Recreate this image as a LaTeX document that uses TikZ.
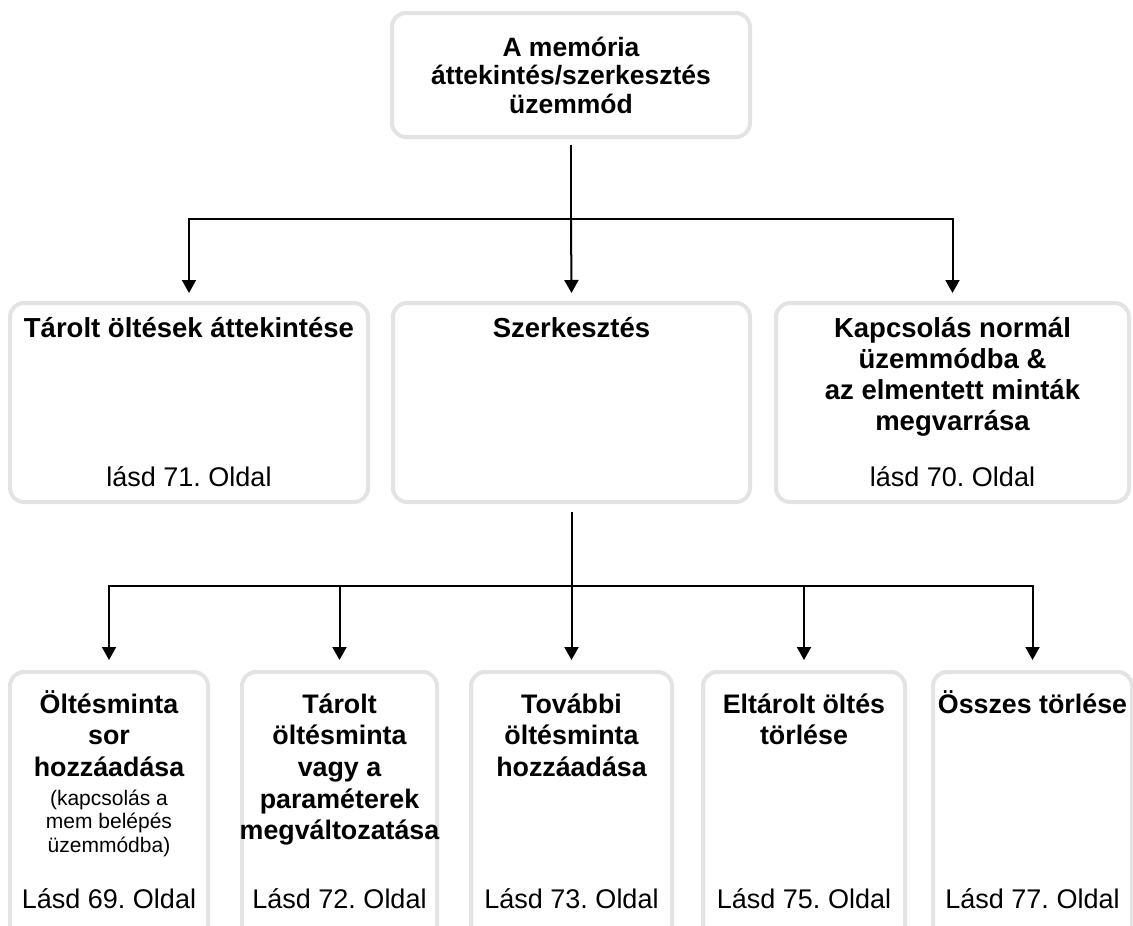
\documentclass[tikz,border=0pt]{standalone}
\usepackage{fontspec}
\setmainfont{Liberation Sans}
\frenchspacing
\definecolor{frameGray}{RGB}{227, 227, 227}
\usetikzlibrary{arrows.meta, positioning}
\newcommand{\stacked}[1]{\begin{tabular}[t]{@{}c@{}}#1\end{tabular}}

\begin{document}
\begin{tikzpicture}[x=1pt, y=-1pt,
    box/.style={draw=frameGray, line width=4pt, rounded corners=14pt,
                minimum height=199pt, inner sep=0pt},
    smallbox/.style={box, minimum width=198pt, minimum height=270pt},
    title/.style={inner sep=0pt, anchor=base, font=\fontsize{27.5}{31}\selectfont\bfseries},
    subtitle/.style={inner sep=0pt, anchor=base, font=\fontsize{26.8}{31.7}\selectfont\bfseries},
    page/.style={inner sep=0pt, anchor=base, font=\fontsize{27}{31}\selectfont},
    note/.style={inner sep=0pt, anchor=base, font=\fontsize{21}{23.5}\selectfont},
    link/.style={line width=2pt},
    arr/.style={-{Triangle[width=14pt, length=13pt]}, line width=2pt}
  ]
    \useasboundingbox (0,0) rectangle (1133,926);

    % Top
    \node[box, minimum width=358pt, minimum height=124pt, align=center,
          font=\fontsize{26.5}{28.5}\selectfont\bfseries] (memo) at (571,75)
          {A memória\\áttekintés/szerkesztés\\üzemmód};

    % Middle row
    \node[box, minimum width=358pt] (tarolt) at (189,402.5) {};
    \node[box, minimum width=357pt] (szerk) at (571.5,402.5) {};
    \node[box, minimum width=353pt] (kapcs) at (952.5,402.5) {};

    \node[title] (taroltT) at ([yshift=-36pt]tarolt.north) {Tárolt öltések áttekintése};
    \node[title] (szerkT) at ([yshift=-36pt]szerk.north) {Szerkesztés};
    \node[title] (kapcsT) at ([yshift=-36pt]kapcs.north)
          {\stacked{Kapcsolás normál\\üzemmódba \&\\az elmentett minták\\megvarrása}};
    \node[page] (taroltP) at ([yshift=18pt]tarolt.south) {lásd 71. Oldal};
    \node[page] (kapcsP) at ([yshift=18pt]kapcs.south) {lásd 70. Oldal};

    % Bottom row
    \node[smallbox] (sor) at (109,807) {};
    \node[smallbox, minimum width=195pt] (valt) at (339.5,807) {};
    \node[smallbox, minimum width=201pt] (tovabbi) at (571.5,807) {};
    \node[smallbox, minimum width=202pt] (torles) at (804,807) {};
    \node[smallbox, minimum width=199pt] (osszes) at (1032.5,807) {};

    \node[subtitle] (sorT) at ([yshift=-43pt]sor.north) {\stacked{Öltésminta\\sor\\hozzáadása}};
    \node[note] (sorN) at ([yshift=-135pt]sor.north) {\stacked{(kapcsolás a\\mem belépés\\üzemmódba)}};
    \node[subtitle] (valtT) at ([yshift=-43pt]valt.north)
          {\stacked{Tárolt\\öltésminta\\vagy a\\paraméterek\\megváltozatása}};
    \node[subtitle] (tovabbiT) at ([yshift=-43pt]tovabbi.north) {\stacked{További\\öltésminta\\hozzáadása}};
    \node[subtitle] (torlesT) at ([yshift=-43pt]torles.north) {\stacked{Eltárolt öltés\\törlése}};
    \node[subtitle] (osszesT) at ([yshift=-43pt]osszes.north) {Összes törlése};

    \node[page] (sorP) at ([yshift=-238pt]sor.north) {Lásd 69. Oldal};
    \node[page] (valtP) at ([yshift=-238pt]valt.north) {Lásd 72. Oldal};
    \node[page] (tovabbiP) at ([yshift=-238pt]tovabbi.north) {Lásd 73. Oldal};
    \node[page] (torlesP) at ([yshift=-238pt]torles.north) {Lásd 75. Oldal};
    \node[page] (osszesP) at ([yshift=-238pt]osszes.north) {Lásd 77. Oldal};

    % Connectors
    \coordinate (hubA) at (571,219);
    \draw[link] ([yshift=-6pt]memo.south) -- (hubA);
    \draw[arr] (hubA) -| ([yshift=8pt]tarolt.north);
    \draw[arr] (hubA) -- ([yshift=8pt]szerk.north);
    \draw[arr] (hubA) -| ([yshift=8pt]kapcs.north);

    \coordinate (hubB) at (571.5,586);
    \draw[link] ([yshift=-8pt]szerk.south) -- (hubB);
    \draw[arr] (hubB) -| ([yshift=10pt]sor.north);
    \draw[arr] (hubB) -| ([yshift=10pt]valt.north);
    \draw[arr] (hubB) -- ([yshift=10pt]tovabbi.north);
    \draw[arr] (hubB) -| ([yshift=10pt]torles.north);
    \draw[arr] (hubB) -| ([yshift=10pt]osszes.north);
  \end{tikzpicture}
\end{document}
